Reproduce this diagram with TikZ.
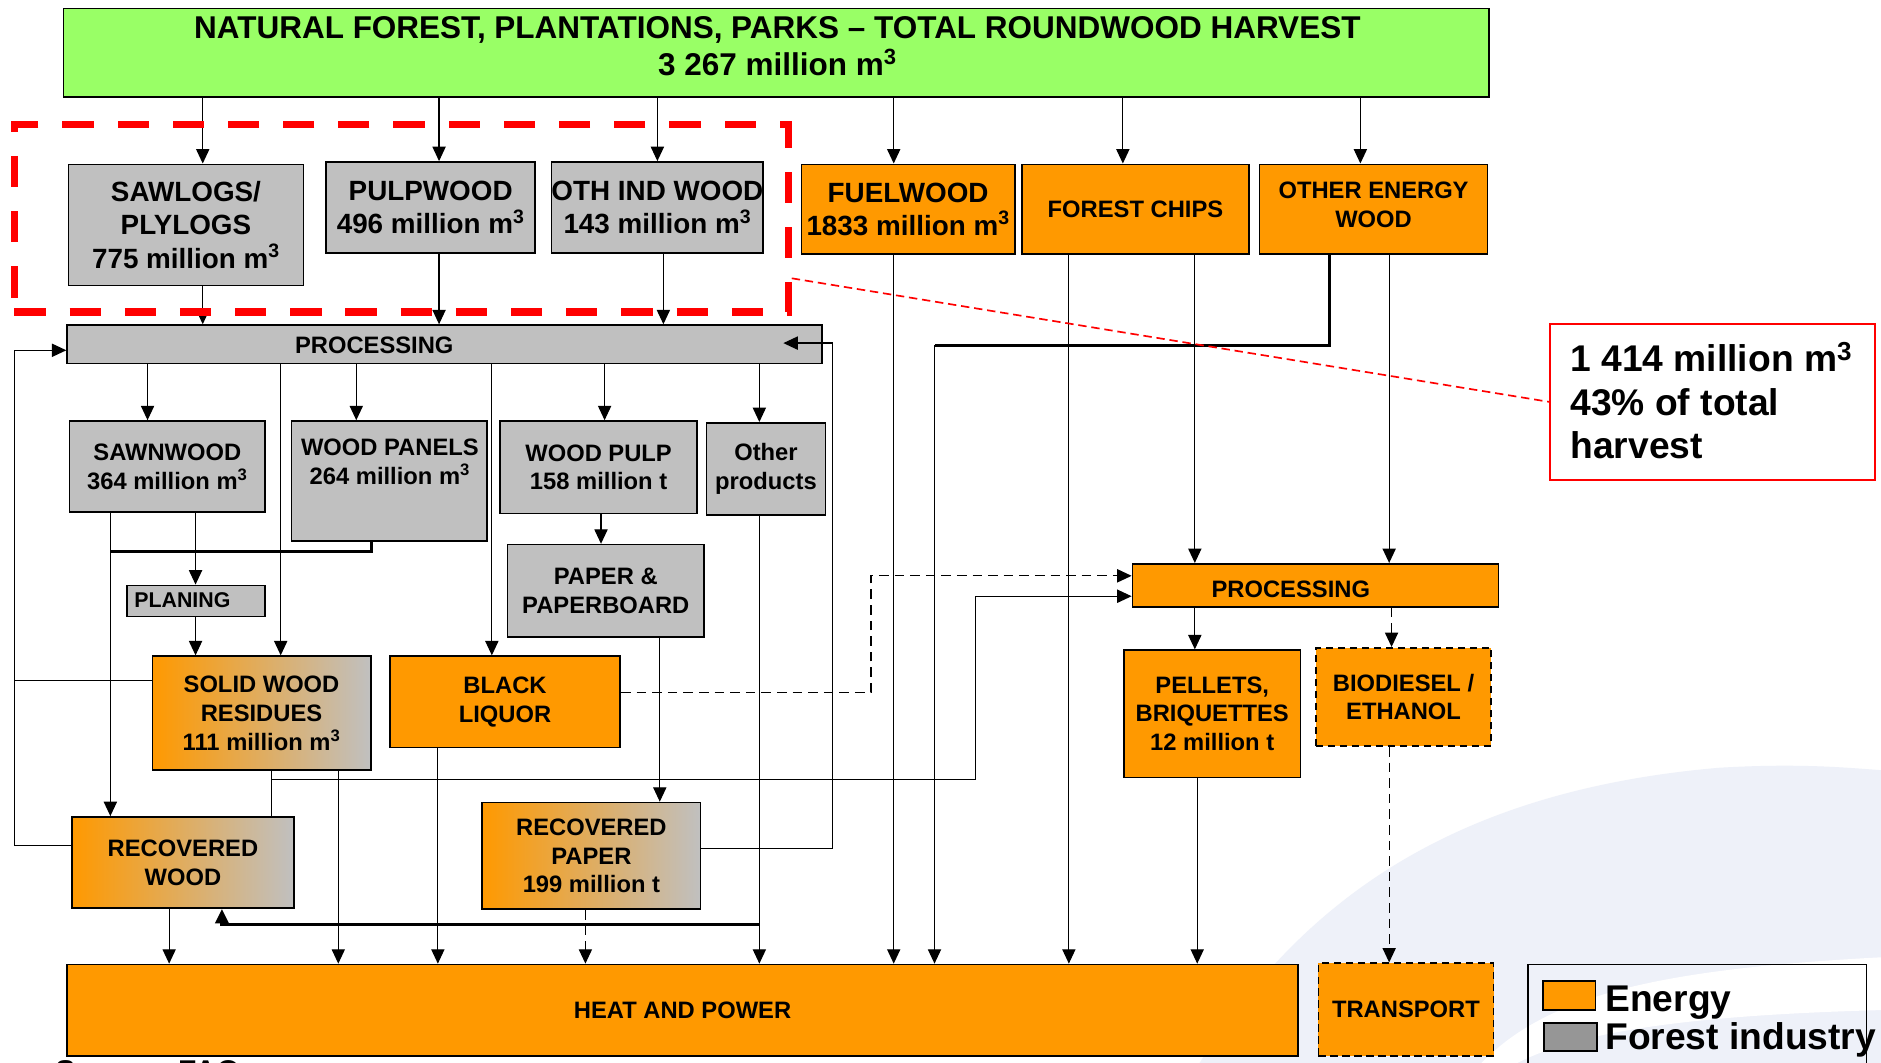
\documentclass[tikz,border=0pt]{standalone}
\usepackage{fontspec}
\setmainfont{Liberation Sans}
\usetikzlibrary{arrows.meta}
\definecolor{fgreen}{HTML}{99FF66}
\definecolor{forange}{HTML}{FF9900}
\definecolor{fgray}{HTML}{C0C0C0}
\definecolor{lgray}{HTML}{969696}
\definecolor{swoosh}{HTML}{EEF1F9}
\begin{document}
\begin{tikzpicture}[x=1pt,y=-1pt,
  box/.style={draw=black, line width=1.4pt, inner sep=0pt, align=center},
  gbox/.style={box, fill=fgray},
  obox/.style={box, fill=forange},
  mixbox/.style={box, left color=forange, right color=fgray},
  dbox/.style={box, fill=forange, dash pattern=on 6pt off 4pt},
  txs/.style={font=\fontsize{19.8}{24}\selectfont\bfseries},
  txb/.style={font=\fontsize{23.2}{28}\selectfont\bfseries},
  txt/.style={inner sep=0pt, align=center},
  ln/.style={line width=1pt},
  thk/.style={line width=2.4pt},
  arr/.style={line width=1pt, -{Triangle[length=12pt,width=11pt]}},
  thkarr/.style={line width=2.4pt, -{Triangle[length=12pt,width=11pt]}},
  darr/.style={line width=1pt, dash pattern=on 8pt off 5pt, -{Triangle[length=12pt,width=11pt]}}
]
\useasboundingbox (0,0) rectangle (1568,886);
\fill[white] (0,0) rectangle (1568,886);
% background swoosh
\fill[swoosh] (1000,886) .. controls (1080,760) and (1200,660) .. (1433,640)
  .. controls (1500,636) and (1540,640) .. (1568,642) -- (1568,886) -- cycle;
\fill[white] (1235,886) .. controls (1290,830) and (1380,808) .. (1568,798)
  -- (1568,842) .. controls (1420,846) and (1320,858) .. (1265,886) -- cycle;

% lanes
\foreach \xx in {12,92,123,141,163,169,185,226,234,282,297,310,365,366,410,488,501,504,548,550,553,633,694,726,745,779,813,891,936,996,998,1108,1134,1158,1160}
  {\coordinate (x\xx) at (\xx,0);}
\foreach \yy in {286,288,292,460,480,497,567,577,650,705,707,771}
  {\coordinate (y\yy) at (0,\yy);}

% top
\node[box, fill=fgreen, minimum width=1188, minimum height=74] (green) at (647,44) {};
\node[txt, font=\fontsize{26.25}{31}\selectfont\bfseries] (title) at (648,38.5)
  {NATURAL FOREST, PLANTATIONS, PARKS – TOTAL ROUNDWOOD HARVEST\\3 267 million m\textsuperscript{3}};

% row 2
\node[gbox, txb, minimum width=196, minimum height=101] (sawlogs) at (155,187.5) {SAWLOGS/\\PLYLOGS\\775 million m\textsuperscript{3}};
\node[gbox, txb, minimum width=174, minimum height=76] (pulpwood) at (359,173) {PULPWOOD\\496 million m\textsuperscript{3}};
\node[gbox, txb, minimum width=174, minimum height=76] (othind) at (548,173) {OTH IND WOOD\\143 million m\textsuperscript{3}};
\node[obox, txb, minimum width=178, minimum height=75] (fuelwood) at (757,174.5) {FUELWOOD\\1833 million m\textsuperscript{3}};
\node[obox, txs, minimum width=189, minimum height=75] (chips) at (946.5,174.5) {FOREST CHIPS};
\node[obox, minimum width=190, minimum height=75] (oew) at (1145,174.5) {};
\node[txt, txs] (oewtxt) at (1145,171) {OTHER ENERGY\\WOOD};

% processing (forest industry)
\node[gbox, minimum width=629, minimum height=32] (procA) at (370.5,287) {};
\node[txt, txs] (procAtxt) at (312,288) {PROCESSING};

\node[gbox, txs, minimum width=163, minimum height=76] (sawnwood) at (139.5,389) {SAWNWOOD\\364 million m\textsuperscript{3}};
\node[gbox, minimum width=163, minimum height=100] (panels) at (324.5,401) {};
\node[txt, txs] (panelstxt) at (325,385) {WOOD PANELS\\264 million m\textsuperscript{3}};
\node[gbox, txs, minimum width=164, minimum height=77] (pulp) at (499,389.5) {WOOD PULP\\158 million t};
\node[gbox, txs, minimum width=99, minimum height=77] (other) at (638.5,391) {Other\\products};
\node[gbox, txs, minimum width=164, minimum height=77] (paper) at (505,492.5) {PAPER \&\\PAPERBOARD};
\node[gbox, minimum width=115, minimum height=26] (planing) at (163.5,501) {};
\node[txt, font=\fontsize{17.8}{20}\selectfont\bfseries] (planingtxt) at (152,500) {PLANING};

\node[mixbox, txs, minimum width=182, minimum height=95] (swr) at (218,594.5) {SOLID WOOD\\RESIDUES\\111 million m\textsuperscript{3}};
\node[obox, txs, minimum width=192, minimum height=76] (bl) at (421,585) {BLACK\\LIQUOR};
\node[mixbox, txs, minimum width=185, minimum height=76] (recwood) at (152.5,719) {RECOVERED\\WOOD};
\node[mixbox, txs, minimum width=182, minimum height=89] (recpaper) at (493,713.5) {RECOVERED\\PAPER\\199 million t};
\node[obox, txs, minimum width=1026, minimum height=76] (heat) at (569,842) {HEAT AND POWER};

% energy side
\node[obox, minimum width=305, minimum height=36] (procB) at (1096.5,488) {};
\node[txt, txs] (procBtxt) at (1076,491) {PROCESSING};
\node[obox, txs, minimum width=147, minimum height=106] (pellets) at (1010.5,595) {PELLETS,\\BRIQUETTES\\12 million t};
\node[dbox, txs, minimum width=146, minimum height=82] (bio) at (1170,581) {BIODIESEL /\\ETHANOL};
\node[dbox, txs, minimum width=146, minimum height=77] (transport) at (1172,841.5) {TRANSPORT};

% legend
\node[draw=black, line width=1.4pt, minimum width=282.5, minimum height=100] (legend) at (1414.75,854) {};
\node[box, fill=forange, minimum width=44, minimum height=24] (legE) at (1308,830) {};
\node[box, fill=lgray, minimum width=44, minimum height=23] (legF) at (1309,864.5) {};
\node[anchor=base west, inner sep=0pt, font=\fontsize{31}{36}\selectfont\bfseries] (legEt) at (1338,843) {Energy};
\node[anchor=base west, inner sep=0pt, font=\fontsize{31}{36}\selectfont\bfseries] (legFt) at (1338,875) {Forest industry};

% red annotation box
\node[draw=red, line width=1.2pt, minimum width=271, minimum height=130] (redbox) at (1427.5,335) {};
\node[anchor=base west, inner sep=0pt, font=\fontsize{31}{36}\selectfont\bfseries] (r1) at (1309,309.7) {1 414 million m\textsuperscript{3}};
\node[anchor=base west, inner sep=0pt, font=\fontsize{31}{36}\selectfont\bfseries] (r2) at (1309,346.7) {43\% of total};
\node[anchor=base west, inner sep=0pt, font=\fontsize{31}{36}\selectfont\bfseries] (r3) at (1309,382) {harvest};

% source (cut off at the bottom, as in the reference)
\node[anchor=north west, inner sep=0pt, font=\fontsize{25}{30}\selectfont\bfseries] (src) at (46,883.5) {Source: FAO};

% connectors from harvest
\draw[arr] (green.south -| x169) -- (sawlogs.north -| x169);
\draw[arr] (green.south -| x366) -- (pulpwood.north -| x366);
\draw[arr] (green.south -| x548) -- (othind.north -| x548);
\draw[arr] (green.south -| x745) -- (fuelwood.north -| x745);
\draw[arr] (green.south -| x936) -- (chips.north -| x936);
\draw[arr] (green.south -| x1134) -- (oew.north -| x1134);
% into processing
\draw[arr] (sawlogs.south -| x169) -- (procA.north -| x169);
\draw[arr] (pulpwood.south -| x366) -- (procA.north -| x366);
\draw[arr] (othind.south -| x553) -- (procA.north -| x553);
% out of processing
\draw[arr] (procA.south -| x123) -- (sawnwood.north -| x123);
\draw[arr] (procA.south -| x234) -- (swr.north -| x234);
\draw[arr] (procA.south -| x297) -- (panels.north -| x297);
\draw[arr] (procA.south -| x410) -- (bl.north -| x410);
\draw[arr] (procA.south -| x504) -- (pulp.north -| x504);
\draw[arr] (procA.south -| x633) -- (other.north -| x633);
\draw[arr] (pulp.south -| x501) -- (paper.north -| x501);
\draw[arr] (sawnwood.south -| x163) -- (planing.north -| x163);
\draw[arr] (planing.south -| x163) -- (swr.north -| x163);
\draw[arr] (sawnwood.south -| x92) -- (recwood.north -| x92);
\draw[thk] (panels.south -| x310) -- (x310 |- y460) -- (x92 |- y460);
% loop back to processing
\draw[ln] (swr.west |- y567) -- (x12 |- y567);
\draw[arr] (recwood.west |- y705) -- (x12 |- y705) -- (x12 |- y292) -- (procA.west |- y292);
\coordinate (tipA) at (653,286);
\draw[arr] (recpaper.east |- y707) -- (x694 |- y707) -- (x694 |- y286) -- (tipA);
% residues
\draw[ln] (swr.south -| x226) -- (recwood.north -| x226);
\draw[arr] (x226 |- y650) -- (x813 |- y650) -- (x813 |- y497) -- (procB.west |- y497);
\draw[arr] (swr.south -| x282) -- (heat.north -| x282);
\draw[arr] (bl.south -| x365) -- (heat.north -| x365);
\draw[darr] (bl.east |- y577) -- (x726 |- y577) -- (x726 |- y480) -- (procB.west |- y480);
\draw[arr] (paper.south -| x550) -- (recpaper.north -| x550);
\draw[darr] (recpaper.south -| x488) -- (heat.north -| x488);
\draw[arr] (other.south -| x633) -- (heat.north -| x633);
\draw[thkarr] (x633 |- y771) -- (x185 |- y771) -- (recwood.south -| x185);
\draw[arr] (recwood.south -| x141) -- (heat.north -| x141);
% energy wood
\draw[arr] (fuelwood.south -| x745) -- (heat.north -| x745);
\draw[thk] (oew.south -| x1108) -- (x1108 |- y288) -- (x779 |- y288);
\draw[arr] (x779 |- y288) -- (heat.north -| x779);
\draw[arr] (chips.south -| x891) -- (heat.north -| x891);
\draw[arr] (chips.south -| x996) -- (procB.north -| x996);
\draw[arr] (oew.south -| x1158) -- (procB.north -| x1158);
\draw[arr] (procB.south -| x996) -- (pellets.north -| x996);
\draw[darr] (procB.south -| x1160) -- (bio.north -| x1160);
\draw[arr] (pellets.south -| x998) -- (heat.north -| x998);
\draw[darr] (bio.south -| x1158) -- (transport.north -| x1158);

% red dashed frame and pointer
\node[draw=red, line width=6pt, dash pattern=on 26pt off 20pt, minimum width=645, minimum height=156] (redframe) at (334.5,182) {};
\draw[red, line width=1.4pt, dash pattern=on 7pt off 4pt] ([yshift=-50pt]redframe.east) -- (redbox.west);
\end{tikzpicture}
\end{document}
